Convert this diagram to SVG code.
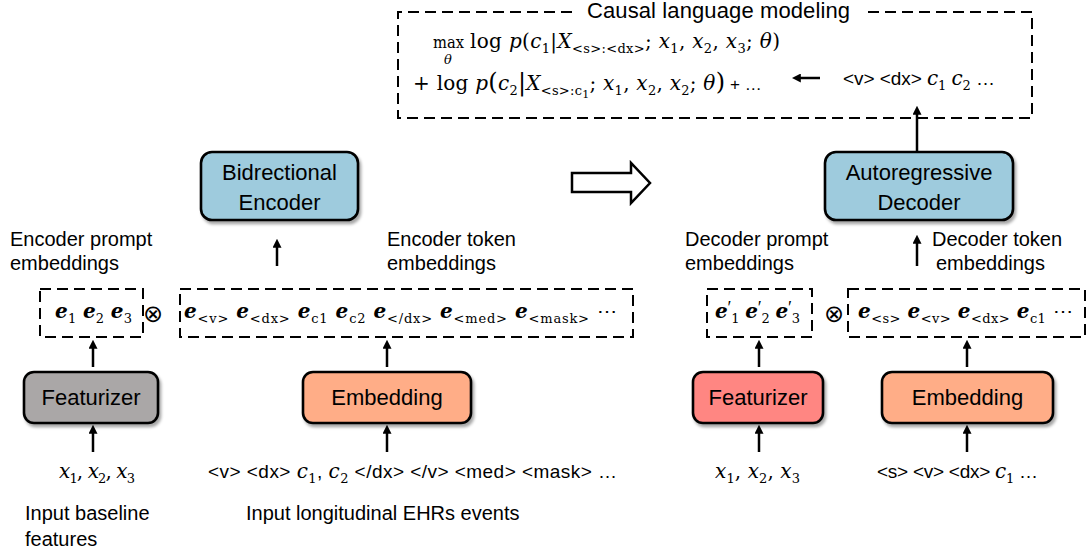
<svg xmlns="http://www.w3.org/2000/svg" width="1088" height="553" viewBox="0 0 1088 553">
<defs>
<filter id="sh" x="-10%" y="-10%" width="130%" height="140%"><feDropShadow dx="2" dy="3" stdDeviation="1.5" flood-color="#000" flood-opacity="0.35"/></filter>
<marker id="ah" viewBox="0 0 10 10" refX="2" refY="5" markerWidth="3.6" markerHeight="3.6" orient="auto" markerUnits="strokeWidth"><path d="M0,0 L10,5 L0,10 z" fill="#000"/></marker>
<style>
.box{stroke:#000;stroke-width:2.6;filter:url(#sh)}
.blue{fill:#9ECBDD}.gray{fill:#AAA7A7}.red{fill:#FF8682}.orange{fill:#FFAD87}
.dash{fill:none;stroke:#000;stroke-width:2;stroke-dasharray:11 6}
.t{font-family:"Liberation Sans",Arial,sans-serif;font-size:20px;fill:#000}
.b{font-family:"Liberation Sans",Arial,sans-serif;font-size:22px;fill:#000;text-anchor:middle}
.m{font-family:"DejaVu Serif","Liberation Serif",serif;font-size:20px;fill:#000}
.i{font-style:italic}
.s{font-size:13px;font-style:normal}
.ss{font-size:11px}
.eb{font-weight:bold;font-style:italic}
.pr{font-family:"Liberation Serif",serif;font-size:18px;font-style:normal;font-weight:normal}
.conn line{stroke:#000;stroke-width:2.5;marker-end:url(#ah)}
</style>
</defs>

<g id="clm">
<path class="dash" d="M572,12 H398 V118 H1032 V12 H865"/>
<text class="t" x="587" y="18" style="font-size:22px" textLength="263">Causal language modeling</text>
<text class="m" x="433" y="48" style="font-size:17px" textLength="31" lengthAdjust="spacingAndGlyphs">max</text>
<text class="m i" x="444" y="64" style="font-size:13px">θ</text>
<text class="m" x="470" y="48" textLength="310" lengthAdjust="spacing">log <tspan class="i">p</tspan>(<tspan class="i">c</tspan><tspan class="s" dy="5">1</tspan><tspan dy="-5">|</tspan><tspan class="i">X</tspan><tspan class="s" dy="5">&lt;s&gt;:&lt;dx&gt;</tspan><tspan dy="-5">; </tspan><tspan class="i">x</tspan><tspan class="s" dy="5">1</tspan><tspan dy="-5">, </tspan><tspan class="i">x</tspan><tspan class="s" dy="5">2</tspan><tspan dy="-5">, </tspan><tspan class="i">x</tspan><tspan class="s" dy="5">3</tspan><tspan dy="-5">; </tspan><tspan class="i">θ</tspan>)</text>
<text class="m" x="413" y="90" textLength="312" lengthAdjust="spacing">+ log <tspan class="i">p</tspan><tspan style="font-size:24px">(</tspan><tspan class="i">c</tspan><tspan class="s" dy="5">2</tspan><tspan dy="-5" style="font-size:24px">|</tspan><tspan class="i">X</tspan><tspan class="s" dy="5">&lt;s&gt;:</tspan><tspan class="s i">c</tspan><tspan class="s ss" dy="3">1</tspan><tspan dy="-8">; </tspan><tspan class="i">x</tspan><tspan class="s" dy="5">1</tspan><tspan dy="-5">, </tspan><tspan class="i">x</tspan><tspan class="s" dy="5">2</tspan><tspan dy="-5">, </tspan><tspan class="i">x</tspan><tspan class="s" dy="5">2</tspan><tspan dy="-5">; </tspan><tspan class="i">θ</tspan><tspan style="font-size:24px">)</tspan></text>
<text class="t" x="730" y="90" style="font-size:17px">+ …</text>
<text class="t" x="843" y="85" textLength="152" lengthAdjust="spacing" style="font-size:19px">&lt;v&gt; &lt;dx&gt; <tspan class="m i">c</tspan><tspan class="m s" dy="5">1</tspan><tspan dy="-5"> </tspan><tspan class="m i">c</tspan><tspan class="m s" dy="5">2</tspan><tspan dy="-5"> …</tspan></text>
</g>

<g id="bidirectional-encoder">
<rect class="box blue" x="201" y="152" width="157" height="68" rx="11"/>
<text class="b" x="279.5" y="180">Bidrectional</text>
<text class="b" x="279.5" y="210">Encoder</text>
</g>

<g id="autoregressive-decoder">
<rect class="box blue" x="825" y="152" width="188" height="68" rx="11"/>
<text class="b" x="919" y="180">Autoregressive</text>
<text class="b" x="919" y="210">Decoder</text>
</g>

<g id="transition-arrow">
<polygon points="572,173 631,173 631,163 650,183 631,203 631,192 572,192" fill="#fff" stroke="#000" stroke-width="2.5" stroke-linejoin="miter"/>
</g>

<g id="labels">
<text class="t" x="10" y="246">Encoder prompt</text>
<text class="t" x="10" y="270">embeddings</text>
<text class="t" x="387" y="246">Encoder token</text>
<text class="t" x="387" y="270">embeddings</text>
<text class="t" x="685" y="246">Decoder prompt</text>
<text class="t" x="685" y="270">embeddings</text>
<text class="t" x="932" y="246">Decoder token</text>
<text class="t" x="936" y="270">embeddings</text>
<text class="t" x="25" y="520">Input baseline</text>
<text class="t" x="25" y="546">features</text>
<text class="t" x="246" y="520">Input longitudinal EHRs events</text>
</g>

<g id="encoder-prompt-embeddings">
<rect class="dash" x="40" y="289" width="103" height="48"/>
<text class="m" x="55" y="318" textLength="77" lengthAdjust="spacing"><tspan class="eb">e</tspan><tspan class="s" dy="5">1</tspan><tspan dy="-5"> </tspan><tspan class="eb">e</tspan><tspan class="s" dy="5">2</tspan><tspan dy="-5"> </tspan><tspan class="eb">e</tspan><tspan class="s" dy="5">3</tspan></text>
</g>
<text class="m" x="153" y="322" text-anchor="middle" style="font-family:'DejaVu Sans',sans-serif;font-size:24px">⊗</text>

<g id="encoder-token-embeddings">
<rect class="dash" x="180" y="289" width="453" height="48"/>
<text class="m" x="184" y="318" textLength="433" lengthAdjust="spacing"><tspan class="eb">e</tspan><tspan class="s" dy="5">&lt;v&gt;</tspan><tspan dy="-5"> </tspan><tspan class="eb">e</tspan><tspan class="s" dy="5">&lt;dx&gt;</tspan><tspan dy="-5"> </tspan><tspan class="eb">e</tspan><tspan class="s" dy="5">c1</tspan><tspan dy="-5"> </tspan><tspan class="eb">e</tspan><tspan class="s" dy="5">c2</tspan><tspan dy="-5"> </tspan><tspan class="eb">e</tspan><tspan class="s" dy="5">&lt;/dx&gt;</tspan><tspan dy="-5"> </tspan><tspan class="eb">e</tspan><tspan class="s" dy="5">&lt;med&gt;</tspan><tspan dy="-5"> </tspan><tspan class="eb">e</tspan><tspan class="s" dy="5">&lt;mask&gt;</tspan><tspan dy="-5"> ⋯</tspan></text>
</g>

<g id="decoder-prompt-embeddings">
<rect class="dash" x="707" y="289" width="105" height="48"/>
<text class="m" x="715" y="318" textLength="85" lengthAdjust="spacing"><tspan class="eb">e</tspan><tspan class="pr" dy="-4">′</tspan><tspan class="s" dy="9">1</tspan><tspan dy="-5"> </tspan><tspan class="eb">e</tspan><tspan class="pr" dy="-4">′</tspan><tspan class="s" dy="9">2</tspan><tspan dy="-5"> </tspan><tspan class="eb">e</tspan><tspan class="pr" dy="-4">′</tspan><tspan class="s" dy="9">3</tspan></text>
</g>
<text class="m" x="834" y="322" text-anchor="middle" style="font-family:'DejaVu Sans',sans-serif;font-size:24px">⊗</text>

<g id="decoder-token-embeddings">
<rect class="dash" x="848" y="289" width="237" height="48"/>
<text class="m" x="858" y="318" textLength="215" lengthAdjust="spacing"><tspan class="eb">e</tspan><tspan class="s" dy="5">&lt;s&gt;</tspan><tspan dy="-5"> </tspan><tspan class="eb">e</tspan><tspan class="s" dy="5">&lt;v&gt;</tspan><tspan dy="-5"> </tspan><tspan class="eb">e</tspan><tspan class="s" dy="5">&lt;dx&gt;</tspan><tspan dy="-5"> </tspan><tspan class="eb">e</tspan><tspan class="s" dy="5">c1</tspan><tspan dy="-5"> ⋯</tspan></text>
</g>

<g id="featurizer-enc">
<rect class="box gray" x="24" y="372" width="134" height="51" rx="10"/>
<text class="b" x="91" y="405">Featurizer</text>
</g>
<g id="embedding-enc">
<rect class="box orange" x="303" y="372" width="168" height="51" rx="10"/>
<text class="b" x="387" y="405">Embedding</text>
</g>
<g id="featurizer-dec">
<rect class="box red" x="693" y="372" width="130" height="51" rx="10"/>
<text class="b" x="758" y="405">Featurizer</text>
</g>
<g id="embedding-dec">
<rect class="box orange" x="882" y="372" width="171" height="51" rx="10"/>
<text class="b" x="967.5" y="405">Embedding</text>
</g>

<g id="inputs">
<text class="m" x="59" y="478" textLength="76" lengthAdjust="spacing"><tspan class="i">x</tspan><tspan class="s" dy="5">1</tspan><tspan dy="-5">, </tspan><tspan class="i">x</tspan><tspan class="s" dy="5">2</tspan><tspan dy="-5">, </tspan><tspan class="i">x</tspan><tspan class="s" dy="5">3</tspan></text>
<text class="m" x="715" y="478" textLength="85" lengthAdjust="spacing"><tspan class="i">x</tspan><tspan class="s" dy="5">1</tspan><tspan dy="-5">, </tspan><tspan class="i">x</tspan><tspan class="s" dy="5">2</tspan><tspan dy="-5">, </tspan><tspan class="i">x</tspan><tspan class="s" dy="5">3</tspan></text>
<text class="t" x="208" y="478" textLength="409" lengthAdjust="spacing" style="font-size:19px">&lt;v&gt; &lt;dx&gt; <tspan class="m i">c</tspan><tspan class="m s" dy="5">1</tspan><tspan dy="-5">, </tspan><tspan class="m i">c</tspan><tspan class="m s" dy="5">2</tspan><tspan dy="-5"> &lt;/dx&gt; &lt;/v&gt; &lt;med&gt; &lt;mask&gt; …</tspan></text>
<text class="t" x="877" y="478" textLength="161" lengthAdjust="spacing" style="font-size:19px">&lt;s&gt; &lt;v&gt; &lt;dx&gt; <tspan class="m i">c</tspan><tspan class="m s" dy="5">1</tspan><tspan dy="-5"> …</tspan></text>
</g>

<g class="conn" id="connectors">
<line x1="277" y1="266" x2="277" y2="246"/>
<line x1="917" y1="266" x2="917" y2="242"/>
<line x1="917" y1="152" x2="917" y2="113"/>
<line x1="820" y1="78" x2="799" y2="78"/>
<line x1="93" y1="367" x2="93" y2="347"/>
<line x1="93" y1="452" x2="93" y2="432"/>
<line x1="387" y1="367" x2="387" y2="347"/>
<line x1="387" y1="452" x2="387" y2="432"/>
<line x1="759" y1="367" x2="759" y2="347"/>
<line x1="759" y1="452" x2="759" y2="432"/>
<line x1="967" y1="367" x2="967" y2="347"/>
<line x1="967" y1="452" x2="967" y2="432"/>
</g>
</svg>
